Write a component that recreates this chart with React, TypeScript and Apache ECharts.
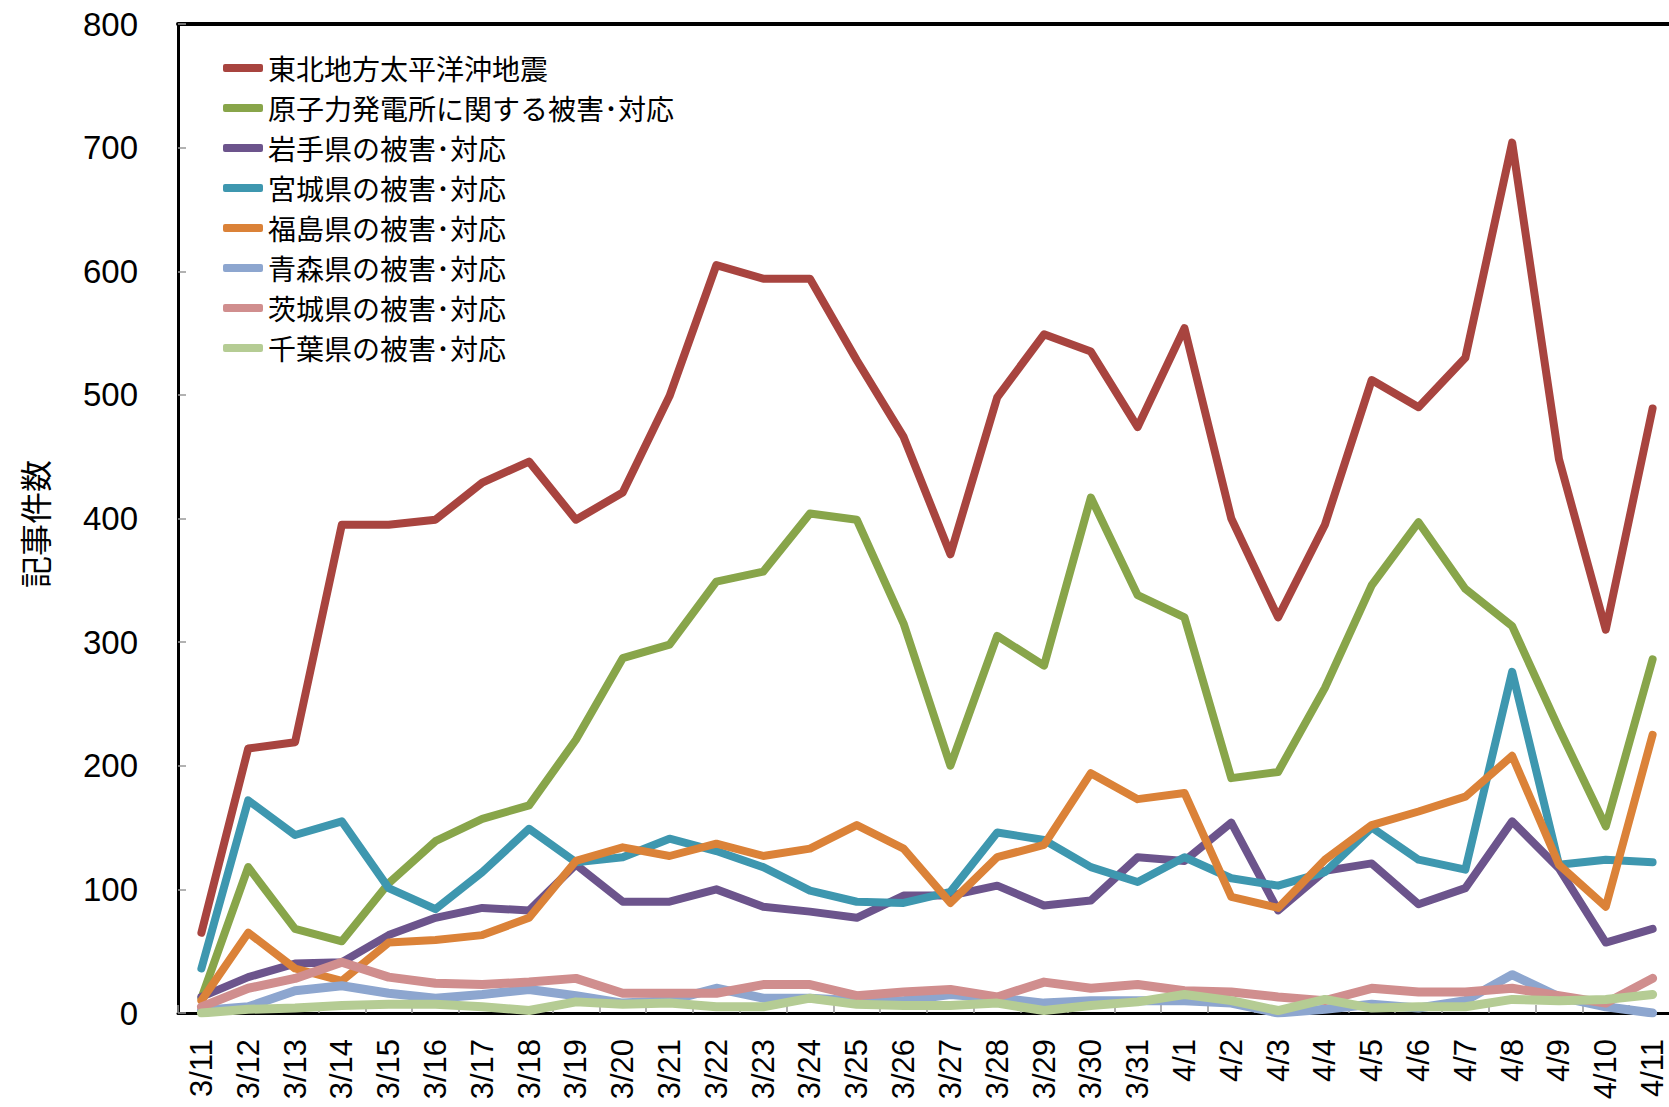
import React, { useEffect, useRef } from "react";
import * as echarts from "echarts";

const categories = [
  "3/11", "3/12", "3/13", "3/14", "3/15", "3/16", "3/17", "3/18", "3/19", "3/20",
  "3/21", "3/22", "3/23", "3/24", "3/25", "3/26", "3/27", "3/28", "3/29", "3/30",
  "3/31", "4/1", "4/2", "4/3", "4/4", "4/5", "4/6", "4/7", "4/8", "4/9", "4/10", "4/11",
];

const seriesNames = [
  "東北地方太平洋沖地震",
  "原子力発電所に関する被害･対応",
  "岩手県の被害･対応",
  "宮城県の被害･対応",
  "福島県の被害･対応",
  "青森県の被害･対応",
  "茨城県の被害･対応",
  "千葉県の被害･対応",
];

const seriesColors = [
  "#A8443F", "#88A54A", "#6C548C", "#3E97AF", "#DB8238", "#8DA6CF", "#D08E8E", "#B5CC94",
];

const quake = [65, 214, 219, 395, 395, 399, 429, 446, 399, 421, 499, 605, 594, 594, 528, 466, 371, 498, 549, 535, 474, 554, 400, 320, 395, 512, 490, 530, 704, 448, 310, 489];
const nuclear = [12, 118, 68, 58, 105, 139, 157, 168, 221, 287, 298, 349, 357, 404, 399, 315, 200, 305, 281, 417, 338, 320, 190, 195, 263, 346, 397, 343, 313, 230, 151, 286];
const iwate = [13, 29, 40, 41, 63, 77, 85, 83, 120, 90, 90, 100, 86, 82, 77, 95, 95, 103, 87, 91, 126, 123, 154, 83, 115, 121, 88, 101, 155, 117, 57, 68];
const miyagi = [36, 172, 144, 155, 101, 84, 114, 149, 122, 126, 141, 131, 118, 99, 90, 89, 98, 146, 140, 118, 106, 126, 109, 103, 114, 150, 124, 116, 276, 120, 124, 122];
const fukushima = [10, 65, 36, 26, 57, 59, 63, 77, 123, 134, 127, 137, 127, 133, 152, 133, 89, 126, 136, 194, 173, 178, 94, 85, 124, 152, 163, 175, 208, 120, 86, 225];
const aomori = [2, 5, 18, 22, 16, 12, 15, 19, 14, 8, 10, 20, 12, 12, 10, 10, 15, 12, 8, 10, 10, 10, 8, 0, 3, 7, 4, 10, 31, 13, 5, 0];
const ibaraki = [5, 20, 28, 41, 29, 24, 23, 25, 28, 16, 16, 16, 23, 23, 14, 17, 19, 13, 25, 20, 23, 18, 17, 13, 10, 20, 17, 17, 20, 14, 8, 28];
const chiba = [0, 3, 4, 6, 7, 7, 5, 2, 9, 7, 8, 5, 5, 12, 7, 6, 6, 8, 2, 6, 9, 15, 10, 2, 11, 4, 5, 5, 11, 10, 11, 15];

const seriesData = [quake, nuclear, iwate, miyagi, fukushima, aomori, ibaraki, chiba];
const seriesWidths = [8, 8, 8, 8, 8, 9, 9, 9];

const yTicks = { min: 0, max: 800, interval: 100 };

export default function App() {
  const ref = useRef<HTMLDivElement | null>(null);

  useEffect(() => {
    if (!ref.current) return;
    const chart = echarts.init(ref.current, undefined, { renderer: "svg" });
    const latin = "'Liberation Sans', Arial, sans-serif";
    const cjk = "'Noto Sans CJK JP', 'Noto Sans', sans-serif";

    chart.setOption({
      animation: false,
      backgroundColor: "#ffffff",
      grid: { left: 178, top: 24, right: 0, bottom: 94, containLabel: false },
      legend: {
        orient: "vertical",
        left: 223,
        top: 53,
        padding: 0,
        itemGap: 10,
        itemWidth: 40,
        itemHeight: 8,
        icon: "roundRect",
        data: seriesNames,
        textStyle: { fontFamily: cjk, fontSize: 28, color: "#000", lineHeight: 30 },
      },
      graphic: [
        {
          type: "text",
          x: 34,
          y: 524,
          rotation: Math.PI / 2,
          style: {
            text: "記事件数",
            font: `32px ${cjk}`,
            fill: "#000",
            align: "center",
            verticalAlign: "middle",
          },
        },
      ],
      xAxis: [
        {
          type: "category",
          data: categories,
          boundaryGap: true,
          axisLine: { show: true, lineStyle: { color: "#000", width: 3 } },
          axisTick: { show: true, inside: true, length: 8, lineStyle: { color: "#999", width: 1.5 } },
          axisLabel: {
            rotate: 90,
            interval: 0,
            margin: 26,
            fontFamily: latin,
            fontSize: 31,
            color: "#000",
          },
          splitLine: { show: false },
        },
        {
          type: "category",
          data: categories,
          position: "top",
          axisLine: { show: true, lineStyle: { color: "#000", width: 4 } },
          axisTick: { show: false },
          axisLabel: { show: false },
          splitLine: { show: false },
        },
      ],
      yAxis: {
        type: "value",
        min: yTicks.min,
        max: yTicks.max,
        interval: yTicks.interval,
        axisLine: { show: true, lineStyle: { color: "#000", width: 3 } },
        axisTick: { show: true, inside: true, length: 8, lineStyle: { color: "#999", width: 1.5 } },
        axisLabel: { margin: 40, fontFamily: latin, fontSize: 33, color: "#000" },
        splitLine: { show: false },
      },
      series: seriesNames.map((name, i) => ({
        name,
        type: "line",
        data: seriesData[i],
        symbol: "none",
        smooth: false,
        color: seriesColors[i],
        lineStyle: { width: seriesWidths[i], color: seriesColors[i], cap: "round", join: "round" },
        emphasis: { disabled: true },
      })),
    });

    return () => chart.dispose();
  }, []);

  return (
    <div
      style={{ position: "fixed", left: 0, top: 0, width: 1669, height: 1107, overflow: "hidden", background: "#fff" }}
    >
      <div ref={ref} style={{ width: 1676, height: 1107 }} />
    </div>
  );
}
